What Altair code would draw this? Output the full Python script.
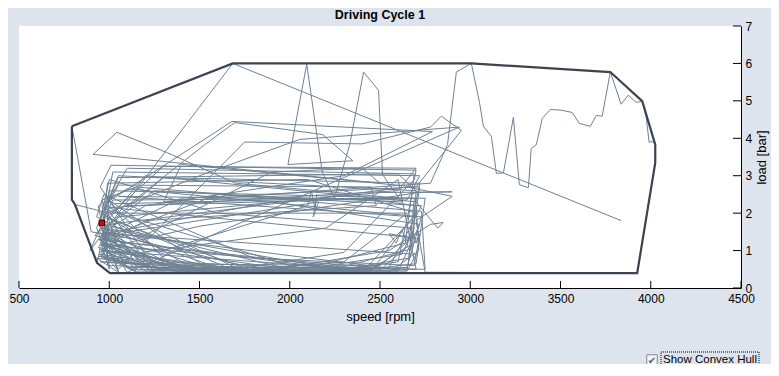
import altair as alt
import pandas as pd

title_text = "Driving Cycle 1"
x_title = "speed [rpm]"
y_title = "load [bar]"
checkbox_label = "Show Convex Hull"
x_ticks = [500, 1000, 1500, 2000, 2500, 3000, 3500, 4000, 4500]
y_ticks = [0, 1, 2, 3, 4, 5, 6, 7]

# operating-point trace (speed rpm, load bar)
phase_a = [(959,1.74),(1010,2.25),(2380,2.4),(2700,2.2),(2715,1.0),(2560,0.45),(1400,0.43),(1000,0.75),
           (930,1.6),(1050,2.95),(2600,3.05),(2710,2.55),(1500,1.65),(960,1.05),(1120,0.5),(2000,0.45),
           (2650,0.55),(2730,1.9),(1100,2.65),(940,2.2),(1000,0.6),(1700,0.5),(2300,0.95),(2690,2.9),
           (2700,3.15),(1010,3.28),(950,2.7),(1250,0.55),(2200,0.42),(2600,0.7),(2680,2.55),(2900,2.57),
           (2500,2.55),(1050,1.9),(980,1.2),(1500,0.45),(2450,0.5),(2720,1.3),(2550,1.45),(2590,1.2),
           (2620,1.55),(2650,1.25),(2680,1.5),(2700,1.2),(2720,1.45),(2690,0.6),(1800,0.8),(970,2.5),
           (930,1.9),(1300,1.0),(2100,2.2),(2120,2.6),(2140,2.1),(2150,2.5),(2130,1.9),(2160,2.3),
           (1100,1.5),(950,0.95),(1150,0.45),(1900,0.48),(2550,1.0),(2780,1.7),(2850,1.75),(2820,1.6),
           (2700,2.3),(1200,3.0),(920,1.4)]
phase_e = [(1010,1.3),(1250,0.48),(2650,0.45),(2700,0.9),(1000,1.45),(1400,0.5),(2400,0.42),(2690,1.9),
           (1050,2.45),(2650,2.35),(2720,3.0),(1020,3.1),(960,1.6),(1600,0.55),(2750,0.5),(2730,2.05),
           (1150,2.7),(960,2.35),(1080,0.65),(2500,0.6),(2680,1.35),(1000,2.15),(2600,2.6),(2700,3.2),
           (1300,3.25),(990,1.9),(1700,0.45),(2650,0.48),(2720,2.7),(1400,2.4),(950,1.35),(1300,0.7),
           (2300,0.5),(2660,0.8),(2690,2.4),(1000,2.6),(980,1.0),(1500,0.6),(2200,0.45),(2680,1.05),
           (2700,2.6),(1050,3.0),(940,1.7),(1100,0.55),(2600,0.45),(2720,1.7),(1900,2.3),(975,1.45),
           (1350,0.45),(2450,0.45),(2700,2.0),(2100,2.9),(990,2.8),(965,1.25),(1200,0.45),(2050,0.48),
           (2640,1.2),(2690,3.05),(1100,3.2),(955,2.0),(1450,0.55),(2550,0.55),(2730,2.2),(1250,2.6),
           (960,1.55),(1050,0.45)]
phase_f = [(940,1.1),(1300,0.45),(960,1.4),(1600,0.48),(945,0.9),(1150,0.42),(970,1.7),(2000,0.5),
           (950,1.2),(1450,0.42),(930,0.8),(1050,0.42),(965,1.9),(1800,0.45),(955,1.0),(2400,0.5),
           (940,1.3),(1250,0.42),(975,2.2),(1700,0.55),(950,0.7),(1900,0.42),(960,1.5),(2600,0.5),
           (945,1.15),(1350,0.55),(985,2.4),(1550,0.5),(940,0.85),(1200,0.62),(970,1.6),(2200,0.55),
           (950,1.3),(1000,0.5),(960,2.2),(1680,4.45),(2790,4.18),(2300,3.0),(1200,2.2),(955,1.45),
           (1100,0.42),(2940,4.3),(2055,3.97),(1500,3.0),(990,2.0),(1150,0.6),(950,1.05)]
phase_b = [(932,0.67),(1004,0.40),(1600,0.42),(2300,0.7),(2650,2.0),(1000,2.0),(810,2.23),(793,2.36),
           (793,4.32),(900,1.5),(1150,1.3),(1900,3.1),(2400,3.2),(2500,2.8),(910,3.57),(1042,4.16),
           (1319,3.62),(1700,2.8),(2600,2.4),(1100,2.2),(1529,3.83),(1695,4.42),(2182,4.10),(2350,3.4),
           (1990,3.3),(2094,5.98),(2180,3.1),(2248,2.4),(2332,3.83),(2409,5.77),(2492,5.28),(2514,3.03),
           (2620,2.3),(1600,2.5),(960,1.3),(1050,0.5),(1750,3.9),(2400,3.85),(2780,4.3),(2840,4.59),
           (2951,4.21),(2700,2.7),(1400,3.3),(1300,2.3),(2780,2.8),(2874,3.83),(2923,5.77),(3006,6.0),
           (3051,4.96)]
phase_c = [(3073,4.32),(3117,4.05),(3145,3.06),(3184,3.08),(3239,4.56),(3272,2.76),(3322,2.68),(3338,3.73),
           (3366,3.83),(3399,4.53),(3444,4.77),(3504,4.75),(3565,4.69),(3604,4.40),(3665,4.32),(3698,4.61),
           (3731,4.59),(3776,5.77),(3836,4.91),(3875,5.15),(3919,4.96),(3953,4.99),(3975,4.56),(3991,3.89),
           (4008,3.92),(4025,3.83),(4025,3.35),(3925,0.40)]
phase_d = [(2750,0.42),(2700,1.8),(2900,2.45),(2650,2.7),(1000,1.7),(960,0.8),(1350,0.48),(2500,0.48),
           (2650,1.1),(2720,2.8),(1300,2.95),(945,1.5),(1100,0.9),(2200,1.6),(2600,2.9),(2700,0.5),
           (2000,0.6),(980,2.1),(1050,2.75),(2450,2.7),(2480,2.2),(1200,1.8),(960,1.15),(1400,0.6),
           (2100,0.52),(2620,0.9),(2690,1.6),(1600,2.0),(1000,2.9),(950,1.8),(1200,0.55),(2350,0.45),
           (2700,0.65),(2750,2.4),(1020,2.35),(893,1.0),(1684,6.0),(3836,1.8)]

hull_speed = [793, 1684, 3006, 3776, 3953, 4025, 4025, 3925, 1004, 932, 810, 793, 793]
hull_load = [4.32, 6.0, 6.0, 5.77, 4.99, 3.83, 3.35, 0.40, 0.40, 0.67, 2.23, 2.36, 4.32]

marker_speed = [959]
marker_load = [1.74]

W, H = 722, 262
FONT = "Liberation Sans"

trace = phase_a + phase_e + phase_f + phase_b + phase_c + phase_d
trace_df = pd.DataFrame({"speed": [p[0] for p in trace], "load": [p[1] for p in trace],
                         "idx": list(range(len(trace)))})
hull_df = pd.DataFrame({"speed": hull_speed, "load": hull_load, "idx": list(range(len(hull_speed)))})
marker_df = pd.DataFrame({"speed": marker_speed, "load": marker_load})
xt_df = pd.DataFrame({"speed": x_ticks})
yt_df = pd.DataFrame({"load": y_ticks})
cb_df = pd.DataFrame({"label": [checkbox_label]})
title_df = pd.DataFrame({"label": [title_text]})

xscale = alt.Scale(domain=[500, 4500], nice=False, zero=False)
yscale = alt.Scale(domain=[0, 7], nice=False, zero=False)

xaxis = alt.Axis(values=x_ticks, title=x_title, grid=False, tickSize=0, labelPadding=5, format="d",
                 domainColor="black", labelColor="black", labelFont=FONT, labelFontSize=12,
                 titleFont=FONT, titleFontSize=13, titleFontWeight="normal", titleColor="black",
                 titlePadding=6, labelFlush=False, labelOverlap=False)
yaxis = alt.Axis(values=y_ticks, title=y_title, orient="right", grid=False, tickSize=0, labelPadding=4,
                 format="d", domainColor="black", labelColor="black", labelFont=FONT, labelFontSize=12,
                 titleFont=FONT, titleFontSize=13, titleFontWeight="normal", titleColor="black",
                 titleAngle=270, titleBaseline="top", titlePadding=4, labelFlush=False,
                 labelOverlap=False)

X = alt.X("speed:Q", scale=xscale, axis=xaxis)
Y = alt.Y("load:Q", scale=yscale, axis=yaxis)

line = alt.Chart(trace_df).mark_line(color="#6e8294", strokeWidth=1).encode(x=X, y=Y, order="idx:Q")
hull = alt.Chart(hull_df).mark_line(color="#3b4450", strokeWidth=2.2).encode(x=X, y=Y, order="idx:Q")
marker = alt.Chart(marker_df).mark_point(shape="square", filled=True, fill="#e00000", stroke="#300000",
                                         strokeWidth=1, size=30, opacity=1).encode(x=X, y=Y)
xticks = alt.Chart(xt_df).mark_rule(color="black", strokeWidth=1).encode(
    x=X, y=alt.value(H - 7), y2=alt.value(H)
)
yticks = alt.Chart(yt_df).mark_rule(color="black", strokeWidth=1).encode(
    y=Y, x=alt.value(W - 8), x2=alt.value(W)
)

title_mark = alt.Chart(title_df).mark_text(align="center", baseline="alphabetic", fontSize=12.5,
                                           fontWeight="bold", font=FONT, color="black").encode(
    x=alt.value(W / 2), y=alt.value(-7), text="label:N"
)

cb_box = alt.Chart(cb_df).mark_point(shape="square", filled=True, fill="#f4f4f4", stroke="#8a8a8a",
                                     strokeWidth=1, size=110, opacity=1).encode(
    x=alt.value(633), y=alt.value(334)
)
cb_check = alt.Chart(cb_df).mark_text(text="✔", fontSize=10, color="#3c5ea8", font="DejaVu Sans",
                                      align="center", baseline="middle").encode(
    x=alt.value(633), y=alt.value(334.5)
)
cb_text = alt.Chart(cb_df).mark_text(align="left", baseline="middle", fontSize=11.5, font=FONT,
                                     color="black").encode(
    x=alt.value(644), y=alt.value(334), text="label:N"
)
cb_focus = alt.Chart(cb_df).mark_rect(fillOpacity=0, stroke="black", strokeWidth=1,
                                      strokeDash=[1, 1]).encode(
    x=alt.value(642), x2=alt.value(740), y=alt.value(326), y2=alt.value(343)
)

chart = alt.layer(line, hull, marker, xticks, yticks, title_mark, cb_box, cb_check, cb_text,
                  cb_focus).properties(
    width=W, height=H,
    autosize=alt.AutoSizeParams(type="none"),
    padding={"left": 11, "top": 18, "right": 30, "bottom": 76},
    background="#dee4ee",
).configure_view(stroke=None, fill="white")

chart.save("out.html", embed_options={"renderer": "svg", "actions": False})
